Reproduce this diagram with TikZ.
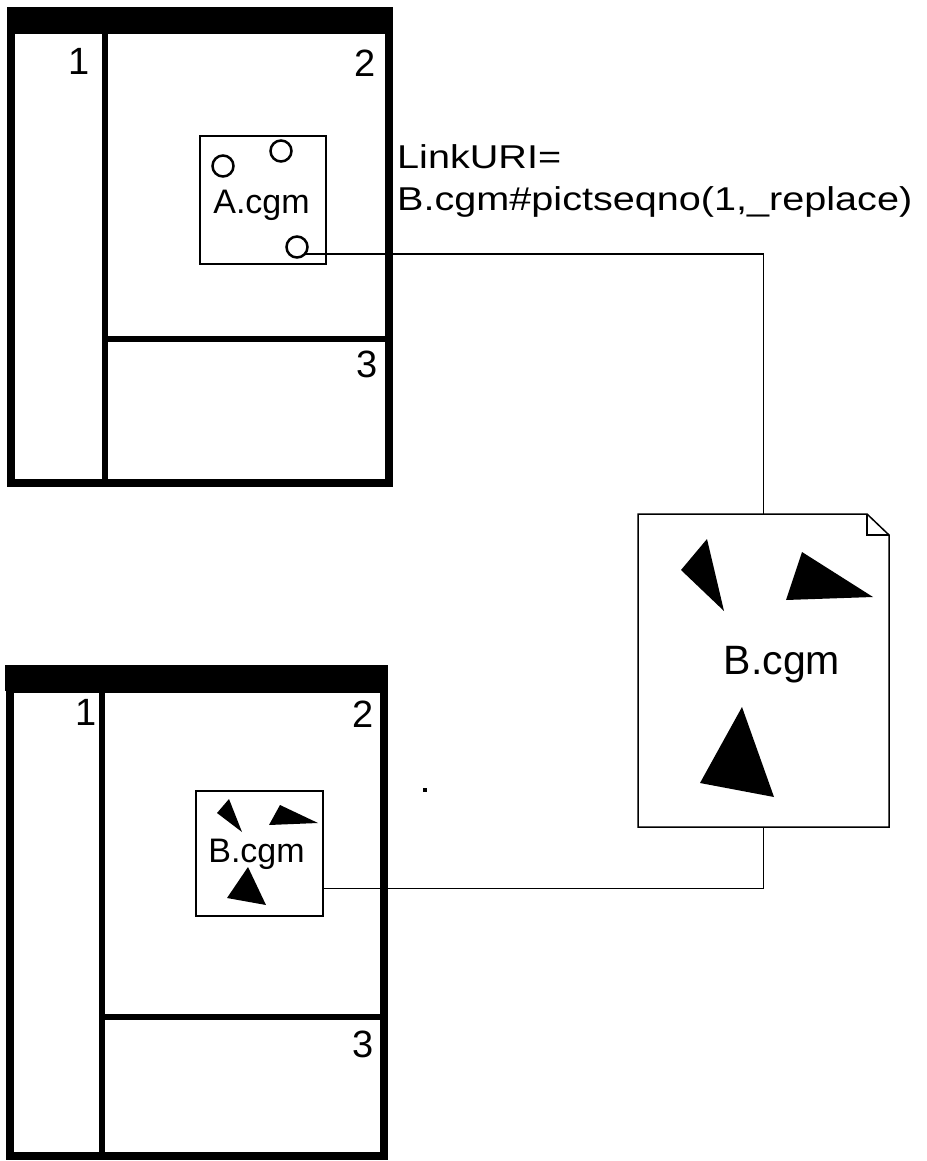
\documentclass[tikz,border=0pt]{standalone}
\usepackage{fontspec}
\setmainfont{Liberation Sans}
\usepackage{tikz}
\usetikzlibrary{calc}

\begin{document}
\begin{tikzpicture}[line cap=butt,line join=miter,x=1pt,y=-1pt,
        frame/.style={line width=8pt},
        divider/.style={line width=6pt},
        thin/.style={line width=1.5pt},
        picbox/.style={draw,line width=1.5pt,inner sep=0pt,outer sep=0pt},
        ring/.style={circle,draw,line width=2.5pt,minimum size=21pt,inner sep=0pt,outer sep=0pt},
        num/.style={anchor=base east,font=\fontsize{38}{44}\selectfont,inner sep=0pt},
        lbl/.style={anchor=base,font=\fontsize{34}{40}\selectfont,inner sep=0pt}]
        \useasboundingbox (0,0) rectangle (926,1161);
        % upper window, before the link
        \fill (7,7) rectangle (393,32);
        \draw [frame] (11,30) rectangle (389,482.5);
        \draw [divider] (104.5,32) -- (104.5,479);
        \draw [divider] (104.5,338.5) -- (386,338.5);
        \draw (90,75) node[num] (ta) {1};
        \draw (376,77) node[num] (tb) {2};
        \draw (378,377) node[num] (tc) {3};
        \node [picbox,minimum width=126pt,minimum height=128pt] (apic) at (263,200) {};
        \node [ring] (c1) at (223,166) {};
        \node [ring] (c2) at (281,151) {};
        \node [ring] (c3) at (297,247) {};
        \draw (261.5,213) node[lbl] (aname) {A.cgm};
        \draw (397,168) node[anchor=base west,inner sep=0pt,font=\fontsize{33}{40}\selectfont] (link1) {\scalebox{1.2}[1]{LinkURI=}};
        \draw (397,210) node[anchor=base west,inner sep=0pt,font=\fontsize{33}{40}\selectfont] (link2) {\scalebox{1.2}[1]{B.cgm\#pictseqno(1,\_replace)}};
        % the linked file
        \node [minimum width=251pt,minimum height=313pt,inner sep=0pt,outer sep=0pt] (bdoc) at (763.5,670.5) {};
        \draw [thin] (bdoc.south west) -- (bdoc.north west) -- ([xshift=-22pt]bdoc.north east) -- ([yshift=-21pt]bdoc.north east) -- (bdoc.south east) -- cycle;
        \draw [thin] ([xshift=-22pt]bdoc.north east) -- ([xshift=-22pt,yshift=-21pt]bdoc.north east) -- ([yshift=-21pt]bdoc.north east);
        \fill (707,539) -- (681,570) -- (724,611) -- cycle;
        \fill (802,552) -- (786,600) -- (873,597) -- cycle;
        \fill (742,707) -- (700,783) -- (774,797) -- cycle;
        \draw (782,674) node[anchor=base,inner sep=0pt,font=\fontsize{41}{48}\selectfont] (bname) {B.cgm};
        % lower window, after the link
        \fill (5,665) rectangle (388,691);
        \draw [frame] (10,689) rectangle (384,1156);
        \draw [divider] (102,691) -- (102,1152);
        \draw [divider] (102,1017) -- (380,1017);
        \draw (97,725) node[num] (ba) {1};
        \draw (374,727) node[num] (bb) {2};
        \draw (374,1057) node[num] (bc) {3};
        \node [picbox,minimum width=127pt,minimum height=125pt] (bpic) at (259.5,853.5) {};
        \fill (229,799) -- (217,813) -- (242,832) -- cycle;
        \fill (280,805) -- (269,825) -- (318,823) -- cycle;
        \fill (248,867) -- (227,898) -- (266,905) -- cycle;
        \draw (256.5,862) node[lbl] (bsmall) {B.cgm};
        \fill (423,788) rectangle (427,792);
        % connectors
        \draw [thin] (c3.-40) -| (bdoc.north);
        \draw [thin] (bdoc.south) |- ([yshift=-35pt]bpic.east);
\end{tikzpicture}
\end{document}
